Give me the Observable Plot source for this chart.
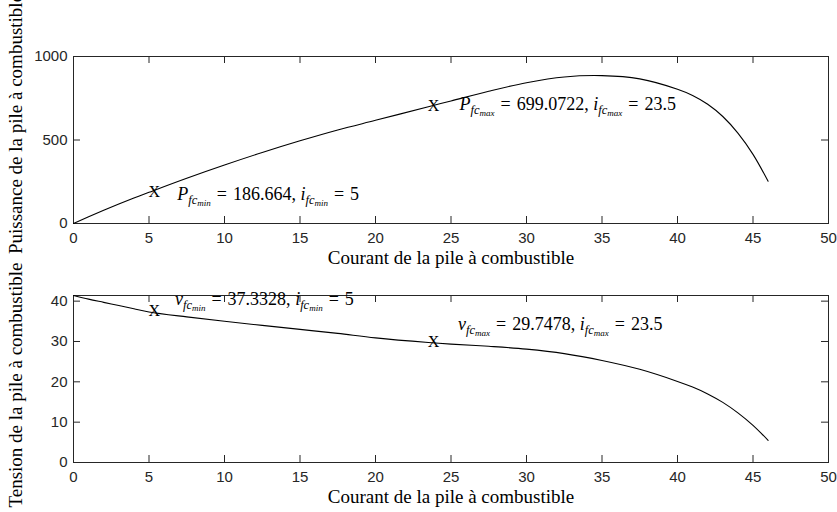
<!DOCTYPE html>
<html><head><meta charset="utf-8">
<script src="https://cdn.jsdelivr.net/npm/d3@7"></script>
<script src="https://cdn.jsdelivr.net/npm/@observablehq/plot@0.6"></script>
<style>
body{margin:0;background:#fff;}
#wrap{position:relative;width:837px;height:512px;overflow:hidden;background:#fff;}
#wrap svg{position:absolute;left:0;overflow:visible;}
</style></head><body><div id="wrap"></div>
<script>
// ---- data ----
const current = [0, 1, 2, 3, 4, 5, 7.5, 10, 12.5, 15, 17.5, 20, 23.5, 25, 27.5, 30, 32.5, 35, 37.5, 40, 41, 42, 43, 44, 45, 46];
const voltage = [41.4, 40.5, 39.7, 38.9, 38.1, 37.33, 36.1, 35.0, 34.0, 33.0, 32.0, 30.9, 29.75, 29.35, 28.8, 28.1, 27.0, 25.3, 23.1, 20.1, 18.7, 17.0, 14.9, 12.3, 9.2, 5.5];
const power   = [0, 40.5, 79.4, 116.7, 152.4, 186.7, 270.8, 350, 425, 495, 560, 618, 699.1, 733.8, 792, 843, 877.5, 885.5, 866, 804, 766.7, 714, 640.7, 541, 414, 253];
const xTicks = [0, 5, 10, 15, 20, 25, 30, 35, 40, 45, 50];
const powerTicks = [0, 500, 1000];
const voltageTicks = [0, 10, 20, 30, 40];
const markCurrent = [5, 23.5];
const markPower = [186.664, 699.0722];
const markVoltage = [37.3328, 29.7478];
const markSub = ["min", "max"];
const xLabel = "Courant de la pile à combustible";
const powerLabel = "Puissance de la pile à combustible";
const voltageLabel = "Tension de la pile à combustible";

const SERIF = "'Liberation Serif', 'DejaVu Serif', serif";
const SANS = "'Liberation Sans', Arial, sans-serif";
const AX = "#262626";
const W = 837, ML = 73, MR = 9;

function panel({height, marginTop, marginBottom, yDomain, yTicks, yValues, yLabel, yLabelDy}) {
  const innerH = height - marginTop - marginBottom;
  return Plot.plot({
    width: W, height, marginLeft: ML, marginRight: MR, marginTop, marginBottom,
    style: {background: "transparent", overflow: "visible"},
    x: {domain: [0, 50]},
    y: {domain: yDomain},
    marks: [
      Plot.frame({stroke: AX, strokeWidth: 1}),
      Plot.tickX(xTicks, {x: d => d, insetTop: innerH - 7, stroke: AX}),
      Plot.tickX(xTicks, {x: d => d, insetBottom: innerH - 7, stroke: AX}),
      Plot.tickY(yTicks, {y: d => d, insetLeft: W - ML - MR - 7, stroke: AX}),
      Plot.tickY(yTicks, {y: d => d, insetRight: W - ML - MR - 7, stroke: AX}),
      Plot.axisX({ticks: xTicks, tickSize: 0, tickPadding: 9, label: null, tickFormat: d3.format("d"), fontSize: 15, fontFamily: SANS, color: AX}),
      Plot.axisY({ticks: yTicks, tickSize: 0, tickPadding: 6, label: null, tickFormat: d3.format("d"), fontSize: 15, fontFamily: SANS, color: AX}),
      Plot.line(yValues, {x: current, y: yValues, curve: "catmull-rom", stroke: "black", strokeWidth: 1.1}),
      Plot.text([xLabel], {text: d => d, frameAnchor: "bottom", lineAnchor: "middle", textAnchor: "middle", dy: 34, fontFamily: SERIF, fontSize: 19, fill: "black"}),
      Plot.text([yLabel], {text: d => d, frameAnchor: "left", textAnchor: "middle", lineAnchor: "middle", rotate: -90, dx: -58, dy: yLabelDy, fontFamily: SERIF, fontSize: 19, fill: "black"})
    ]
  });
}

function addMarks(chart, ys) {
  const sx = chart.scale("x"), sy = chart.scale("y");
  const svg = d3.select(chart);
  markCurrent.forEach((c, k) => {
    svg.append("text").attr("x", sx.apply(c)).attr("y", sy.apply(ys[k]) + 5)
      .attr("text-anchor", "start").attr("fill", "black")
      .attr("font-family", SERIF).attr("font-size", 16).text("X");
  });
}

function richLabel(chart, x, y, sym, val, ival, sub) {
  const sx = chart.scale("x"), sy = chart.scale("y");
  const t = d3.select(chart).append("text")
    .attr("x", sx.apply(x)).attr("y", sy.apply(y)).attr("text-anchor", "start")
    .attr("font-family", SERIF).attr("font-size", 18).attr("fill", "black");
  const part = (txt, opts) => {
    const s = t.append("tspan").text(txt);
    if (opts.it) s.attr("font-style", "italic");
    if (opts.fs) s.attr("font-size", opts.fs);
    if (opts.dy) s.attr("dy", opts.dy);
  };
  const sp = "\u2004";
  part(sym, {it: 1});
  part("fc", {it: 1, fs: 12.5, dy: 4});
  part(sub, {it: 1, fs: 9, dy: 2});
  part(sp + "=" + sp + val + ", ", {dy: -6});
  part("i", {it: 1});
  part("fc", {it: 1, fs: 12.5, dy: 4});
  part(sub, {it: 1, fs: 9, dy: 2});
  part(sp + "=" + sp + ival, {dy: -6});
}

const wrap = document.getElementById("wrap");

const topChart = panel({height: 263, marginTop: 56, marginBottom: 40, yDomain: [0, 1000], yTicks: powerTicks, yValues: power, yLabel: powerLabel, yLabelDy: -16});
topChart.style.top = "0px";
wrap.appendChild(topChart);
addMarks(topChart, markPower);
richLabel(topChart, 6.9, 135, "P", String(markPower[0]), String(markCurrent[0]), markSub[0]);
richLabel(topChart, 25.6, 675, "P", String(markPower[1]), String(markCurrent[1]), markSub[1]);

const botChart = panel({height: 249, marginTop: 32, marginBottom: 50, yDomain: [0, 41.4], yTicks: voltageTicks, yValues: voltage, yLabel: voltageLabel, yLabelDy: 6});
botChart.style.top = "263px";
wrap.appendChild(botChart);
addMarks(botChart, markVoltage);
richLabel(botChart, 6.75, 38.9, "v", String(markVoltage[0]), String(markCurrent[0]), markSub[0]);
richLabel(botChart, 25.5, 32.7, "v", String(markVoltage[1]), String(markCurrent[1]), markSub[1]);
</script></body></html>
